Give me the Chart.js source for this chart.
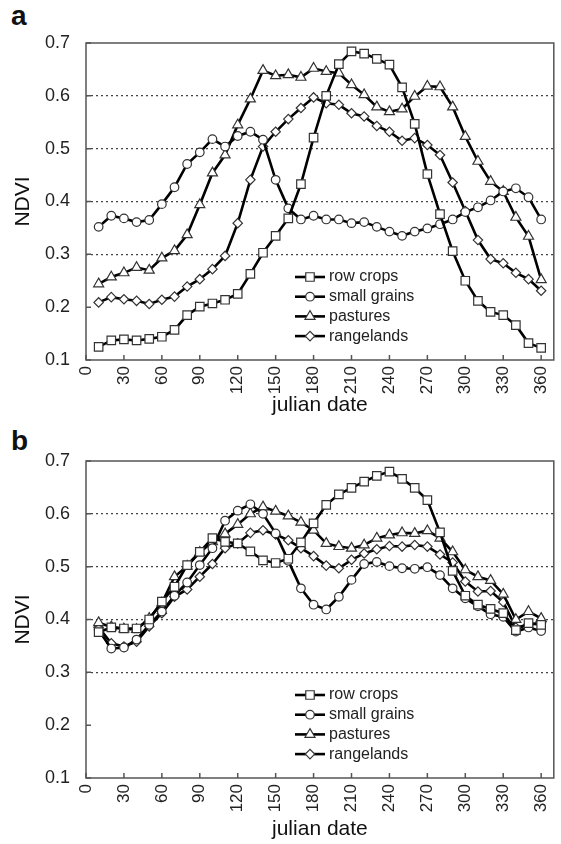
<!DOCTYPE html>
<html>
<head>
<meta charset="utf-8">
<script src="https://cdn.jsdelivr.net/npm/chart.js@4.4.1/dist/chart.umd.min.js"></script>
<style>
  body { margin: 0; background: #fff; width: 561px; height: 844px; position: relative; overflow: hidden; }
  canvas { position: absolute; left: 0; }
  .tag { position: absolute; left: 11px; font: bold 28px "Liberation Sans", Arial, sans-serif; color: #111; line-height: 32px; }
</style>
</head>
<body>
<div class="tag" style="top:0px">a</div>
<div class="tag" style="top:425px">b</div>
<canvas id="chartA" width="561" height="420" style="top:0"></canvas>
<canvas id="chartB" width="561" height="424" style="top:420px"></canvas>
<script>
// julian dates of the composites
const days = [10, 20, 30, 40, 50, 60, 70, 80, 90, 100, 110, 120, 130, 140, 150, 160, 170, 180,
  190, 200, 210, 220, 230, 240, 250, 260, 270, 280, 290, 300, 310, 320, 330, 340, 350, 360];
const xTicks = [0, 30, 60, 90, 120, 150, 180, 210, 240, 270, 300, 330, 360];
const yTicks = [0.1, 0.2, 0.3, 0.4, 0.5, 0.6, 0.7];
const dottedAt = [0.3, 0.4, 0.5, 0.6];
const classes = ['row crops', 'small grains', 'pastures', 'rangelands'];

// panel a
const rowCropsA = [0.125, 0.137, 0.139, 0.137, 0.140, 0.144, 0.157, 0.185, 0.201, 0.207, 0.214, 0.225,
  0.263, 0.303, 0.335, 0.368, 0.433, 0.521, 0.600, 0.660, 0.684, 0.680, 0.670, 0.659,
  0.616, 0.547, 0.452, 0.376, 0.306, 0.250, 0.212, 0.191, 0.185, 0.166, 0.132, 0.123];
const smallGrainsA = [0.352, 0.373, 0.368, 0.361, 0.365, 0.395, 0.427, 0.471, 0.493, 0.518, 0.504, 0.524,
  0.532, 0.517, 0.441, 0.387, 0.366, 0.373, 0.366, 0.366, 0.359, 0.361, 0.352, 0.343,
  0.335, 0.343, 0.349, 0.357, 0.366, 0.380, 0.389, 0.402, 0.419, 0.425, 0.408, 0.366];
const pasturesA = [0.244, 0.257, 0.265, 0.275, 0.270, 0.293, 0.307, 0.337, 0.394, 0.454, 0.488, 0.545,
  0.594, 0.648, 0.638, 0.640, 0.635, 0.652, 0.646, 0.643, 0.621, 0.602, 0.579, 0.570,
  0.575, 0.599, 0.618, 0.617, 0.579, 0.523, 0.476, 0.438, 0.419, 0.370, 0.334, 0.252];
const rangelandsA = [0.209, 0.219, 0.215, 0.212, 0.206, 0.214, 0.220, 0.239, 0.253, 0.272, 0.297, 0.359,
  0.441, 0.504, 0.532, 0.556, 0.577, 0.597, 0.586, 0.583, 0.567, 0.561, 0.543, 0.532,
  0.515, 0.520, 0.507, 0.488, 0.436, 0.382, 0.327, 0.291, 0.283, 0.265, 0.253, 0.231];

// panel b
const rowCropsB = [0.376, 0.385, 0.383, 0.383, 0.400, 0.434, 0.462, 0.503, 0.528, 0.554, 0.547, 0.544,
  0.529, 0.512, 0.507, 0.515, 0.546, 0.582, 0.617, 0.637, 0.649, 0.661, 0.672, 0.680,
  0.666, 0.649, 0.626, 0.565, 0.492, 0.445, 0.428, 0.420, 0.412, 0.380, 0.393, 0.390];
const smallGrainsB = [0.380, 0.345, 0.347, 0.362, 0.390, 0.415, 0.445, 0.470, 0.503, 0.535, 0.587, 0.606,
  0.618, 0.600, 0.563, 0.511, 0.459, 0.428, 0.419, 0.443, 0.475, 0.505, 0.509, 0.501,
  0.497, 0.496, 0.499, 0.484, 0.459, 0.440, 0.425, 0.410, 0.405, 0.377, 0.385, 0.378];
const pasturesB = [0.394, 0.386, 0.382, 0.381, 0.402, 0.431, 0.481, 0.501, 0.527, 0.547, 0.562, 0.580,
  0.600, 0.613, 0.605, 0.596, 0.584, 0.569, 0.544, 0.538, 0.535, 0.541, 0.554, 0.560,
  0.564, 0.563, 0.568, 0.554, 0.528, 0.494, 0.481, 0.474, 0.448, 0.400, 0.415, 0.402];
const rangelandsB = [0.385, 0.355, 0.349, 0.358, 0.387, 0.412, 0.443, 0.457, 0.481, 0.505, 0.535, 0.544,
  0.564, 0.569, 0.561, 0.550, 0.535, 0.520, 0.502, 0.497, 0.513, 0.525, 0.533, 0.539,
  0.538, 0.541, 0.538, 0.523, 0.508, 0.472, 0.453, 0.454, 0.433, 0.385, 0.390, 0.394];

const FONT = '"Liberation Sans", Arial, sans-serif';
const markers = ['rect', 'circle', 'triangle', 'rectRot'];
const markerSize = [6, 4.3, 5.8, 4.7];

// box round the plot + short inward tick marks
const framePlugin = {
  id: 'frame',
  afterDatasetsDraw(chart) {
    const { ctx, chartArea: a, scales: { x, y } } = chart;
    ctx.save();
    ctx.strokeStyle = '#555';
    ctx.lineWidth = 1.5;
    ctx.strokeRect(a.left, a.top, a.right - a.left, a.bottom - a.top);
    ctx.beginPath();
    x.ticks.forEach(t => {
      const px = x.getPixelForValue(t.value);
      ctx.moveTo(px, a.bottom);
      ctx.lineTo(px, a.bottom - 5);
    });
    y.ticks.forEach(t => {
      const py = y.getPixelForValue(t.value);
      ctx.moveTo(a.left, py);
      ctx.lineTo(a.left + 5, py);
    });
    ctx.stroke();
    ctx.restore();
  }
};

// legend drawn inside the plot
const keyPlugin = {
  id: 'key',
  afterDraw(chart) {
    const { ctx, chartArea: a } = chart;
    ctx.save();
    chart.data.datasets.forEach((ds, i) => {
      const y = a.top + 234 + i * 19.7;
      const x0 = a.left + 209;
      ctx.strokeStyle = '#000';
      ctx.lineWidth = 2.6;
      ctx.beginPath();
      ctx.moveTo(x0, y);
      ctx.lineTo(x0 + 30, y);
      ctx.stroke();
      ctx.fillStyle = '#fff';
      ctx.strokeStyle = '#333';
      ctx.lineWidth = 1.2;
      Chart.helpers.drawPoint(ctx, { pointStyle: ds.pointStyle, radius: ds.pointRadius, borderWidth: 1.2, rotation: 0 }, x0 + 15, y);
      ctx.fillStyle = '#222';
      ctx.font = '16px ' + FONT;
      ctx.textBaseline = 'middle';
      ctx.fillText(ds.label, x0 + 34, y);
    });
    ctx.restore();
  }
};

const makeChart = (id, series, padTop, axisH) => {
  const ctx = document.getElementById(id).getContext('2d');
  return new Chart(ctx, {
    type: 'line',
    data: {
      datasets: series.map((vals, i) => ({
        label: classes[i],
        data: days.map((d, j) => ({ x: d, y: vals[j] })),
        borderColor: '#000',
        borderWidth: 2.6,
        tension: 0,
        pointStyle: markers[i],
        pointRadius: markerSize[i],
        pointBackgroundColor: '#fff',
        pointBorderColor: '#333',
        pointBorderWidth: 1.2
      }))
    },
    options: {
      responsive: false,
      animation: false,
      devicePixelRatio: 1,
      layout: { padding: { top: padTop, right: 4, left: 0, bottom: 0 } },
      plugins: { legend: { display: false }, tooltip: { enabled: false } },
      scales: {
        x: {
          type: 'linear',
          min: 0,
          max: 370,
          afterBuildTicks: s => { s.ticks = xTicks.map(v => ({ value: v })); },
          afterFit: s => { s.height = axisH; s.paddingLeft = 0; s.paddingRight = 0; },
          grid: { display: false, drawTicks: false },
          border: { display: false },
          ticks: {
            autoSkip: false,
            minRotation: 90,
            maxRotation: 90,
            padding: 6,
            color: '#222',
            font: { family: FONT, size: 17 }
          },
          title: {
            display: true,
            text: 'julian date',
            color: '#111',
            font: { family: FONT, size: 21 },
            padding: { top: 0, bottom: 2 }
          }
        },
        y: {
          min: 0.1,
          max: 0.7,
          afterBuildTicks: s => { s.ticks = yTicks.map(v => ({ value: v })); },
          afterFit: s => { s.width = 86; s.paddingTop = 0; s.paddingBottom = 0; },
          grid: {
            drawTicks: false,
            lineWidth: 1.2,
            color: c => dottedAt.some(v => Math.abs(v - c.tick.value) < 1e-6) ? '#444' : 'rgba(0,0,0,0)'
          },
          border: { display: false, dash: [2, 3] },
          ticks: {
            padding: 16,
            color: '#222',
            font: { family: FONT, size: 18 },
            callback: v => v.toFixed(1)
          },
          title: {
            display: true,
            text: 'NDVI',
            color: '#111',
            font: { family: FONT, size: 21 },
            padding: { top: 11, bottom: 0 }
          }
        }
      }
    },
    plugins: [framePlugin, keyPlugin]
  });
};

makeChart('chartA', [rowCropsA, smallGrainsA, pasturesA, rangelandsA], 43, 60);
makeChart('chartB', [rowCropsB, smallGrainsB, pasturesB, rangelandsB], 41, 66);
</script>
</body>
</html>
